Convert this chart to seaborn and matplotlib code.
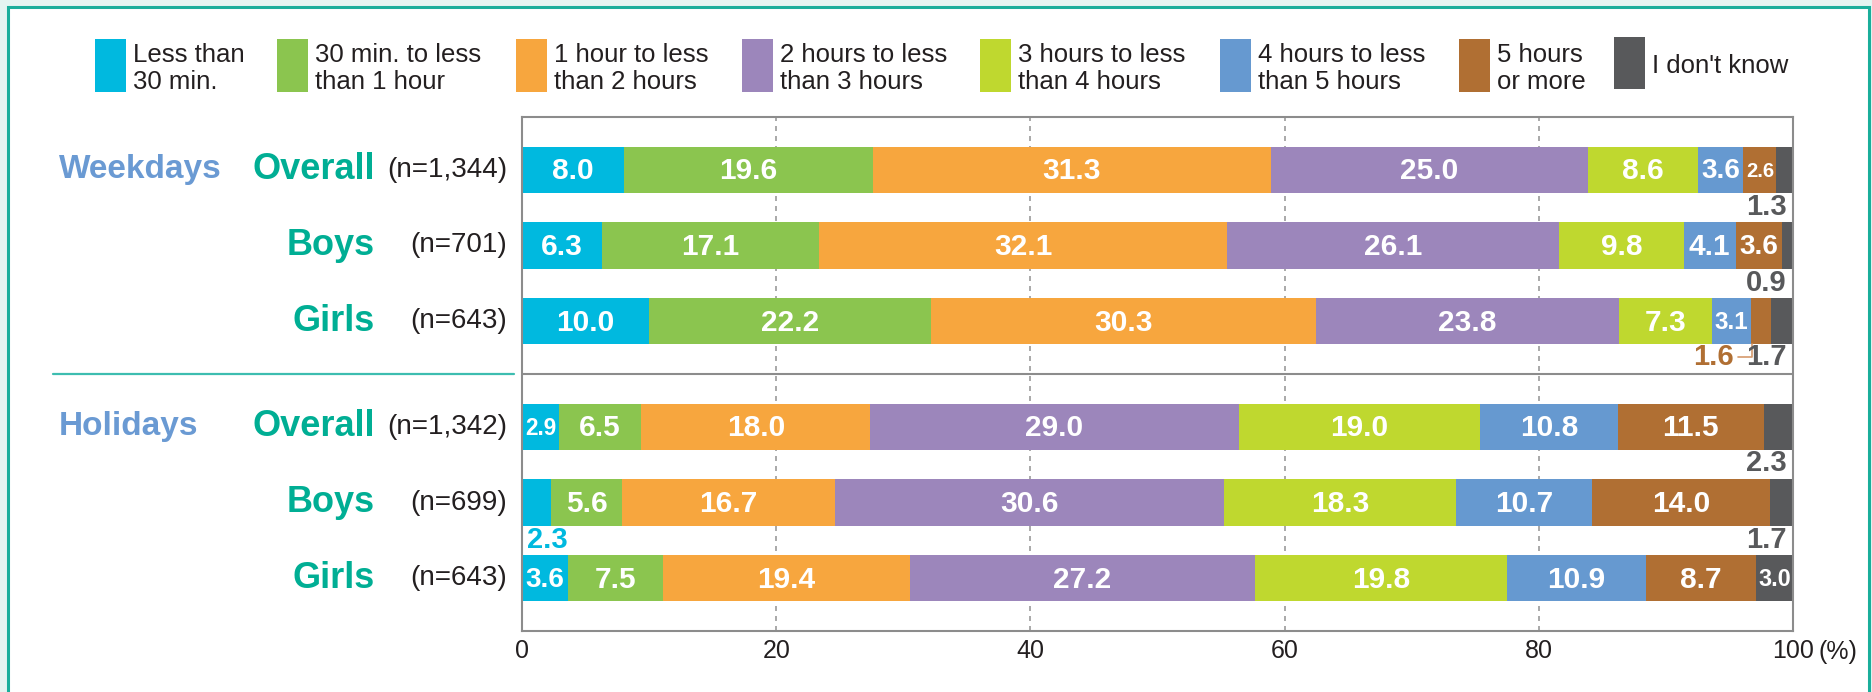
import matplotlib
matplotlib.use('Agg')
import matplotlib.pyplot as plt
import seaborn as sns
import numpy as np
import pandas as pd
from matplotlib import transforms
from matplotlib.patches import Rectangle
from matplotlib.lines import Line2D

# categories of daily time and their colours
categories = ['Less than\n30 min.', '30 min. to less\nthan 1 hour', '1 hour to less\nthan 2 hours',
              '2 hours to less\nthan 3 hours', '3 hours to less\nthan 4 hours',
              '4 hours to less\nthan 5 hours', '5 hours\nor more', "I don't know"]
colors = ['#00b9df', '#8bc54f', '#f7a63e', '#9c86bb', '#bfd82f', '#6699d0', '#b06f33', '#58595b']

groups = ['Weekdays', '', '', 'Holidays', '', '']
rows = ['Overall', 'Boys', 'Girls', 'Overall', 'Boys', 'Girls']
sample_sizes = ['(n=1,344)', '(n=701)', '(n=643)', '(n=1,342)', '(n=699)', '(n=643)']

weekday_overall = [8.0, 19.6, 31.3, 25.0, 8.6, 3.6, 2.6, 1.3]
weekday_boys = [6.3, 17.1, 32.1, 26.1, 9.8, 4.1, 3.6, 0.9]
weekday_girls = [10.0, 22.2, 30.3, 23.8, 7.3, 3.1, 1.6, 1.7]
holiday_overall = [2.9, 6.5, 18.0, 29.0, 19.0, 10.8, 11.5, 2.3]
holiday_boys = [2.3, 5.6, 16.7, 30.6, 18.3, 10.7, 14.0, 1.7]
holiday_girls = [3.6, 7.5, 19.4, 27.2, 19.8, 10.9, 8.7, 3.0]

x_ticks = [0, 20, 40, 60, 80, 100]

all_values = [weekday_overall, weekday_boys, weekday_girls,
              holiday_overall, holiday_boys, holiday_girls]
row_pos = [0, 1, 2, 3.4, 4.4, 5.4]

recs = []
for i, vals in enumerate(all_values):
    ends = np.cumsum(vals)
    for k, v in enumerate(vals):
        recs.append(dict(pos=row_pos[i], row=i, cat=k, value=v, end=ends[k], start=ends[k] - v))
df = pd.DataFrame(recs)

sns.set_style('white')
plt.rcParams['font.family'] = ['Liberation Sans', 'DejaVu Sans']

W, H = 1872, 692
fig = plt.figure(figsize=(W / 100, H / 100), dpi=100, facecolor='#e4f4f1')

# white panel with teal frame
fig.patches.append(Rectangle((8 / W, -0.1), (1869 - 8) / W, 1.1 - 7 / H, transform=fig.transFigure,
                             facecolor='white', edgecolor='#1aae9b', lw=2.2, zorder=-10))

ax = fig.add_axes([522 / W, 1 - 631 / H, (1793 - 522) / W, (631 - 117) / H])

# stacked bars: draw the cumulative ends from last category backwards
for k in reversed(range(len(categories))):
    sub = df[df['cat'] == k]
    sns.barplot(data=sub, x='end', y='pos', orient='y', native_scale=True, color=colors[k],
                saturation=1, width=0.61, errorbar=None, linewidth=0, ax=ax)

ax.set_xlim(0, 100)
ax.set_ylim(6.1, -0.7)
ax.set_yticks([])
ax.set_xlabel('')
ax.set_ylabel('')
ax.set_xticks(x_ticks)
ax.set_xticklabels([str(t) for t in x_ticks], fontsize=18, color='#231f20')
ax.tick_params(axis='x', length=0, pad=6)
ax.set_axisbelow(True)
ax.xaxis.grid(True, ls=(0, (3, 3)), color='#9b9b9b', lw=1.2)
for s in ax.spines.values():
    s.set_color('#8c8c8c')
    s.set_linewidth(1.5)
ax.axhline(2.7, color='#8c8c8c', lw=1.5)

# value labels
outside = {
    (0, 7): (99.5, 0.49, 'right', '#58595b'),
    (1, 7): (99.5, 0.49, 'right', '#58595b'),
    (2, 7): (99.5, 0.48, 'right', '#58595b'),
    (2, 6): (95.3, 0.48, 'right', '#b06f33'),
    (3, 7): (99.5, 0.48, 'right', '#58595b'),
    (4, 7): (99.5, 0.49, 'right', '#58595b'),
    (4, 0): (0.4, 0.49, 'left', '#00b9df'),
}
for _, r in df.iterrows():
    key = (int(r['row']), int(r['cat']))
    txt = f"{r['value']:.1f}"
    if key in outside:
        x, dy, ha, c = outside[key]
        ax.text(x, r['pos'] + dy, txt, ha=ha, va='center', color=c, fontsize=21, fontweight='bold')
    else:
        ax.text(r['start'] + r['value'] / 2, r['pos'] + 0.02, txt, ha='center', va='center',
                color='white', fontsize=min(21.5, 5.6 * r['value']), fontweight='bold')

# connector for the girls' 1.6 label
g = df[(df['row'] == 2) & (df['cat'] == 6)].iloc[0]
ax.plot([95.7, g['start'] + 0.1, g['start'] + 0.1], [2.48, 2.48, 2.305], color='#d59a6c', lw=1.2,
        clip_on=False)

# row labels
tr = transforms.blended_transform_factory(fig.transFigure, ax.transData)
for i, p in enumerate(row_pos):
    if groups[i]:
        ax.text(59 / W, p, groups[i], transform=tr, ha='left', va='center', fontsize=24,
                fontweight='bold', color='#6a9ad3')
    ax.text(375 / W, p, rows[i], transform=tr, ha='right', va='center', fontsize=26,
            fontweight='bold', color='#00ae94')
    ax.text(507 / W, p, sample_sizes[i], transform=tr, ha='right', va='center', fontsize=20,
            color='#231f20')

fig.add_artist(Line2D([53 / W, 514 / W], [1 - 374 / H, 1 - 374 / H], color='#3dbdb0', lw=1.6))

fig.text(1818 / W, 1 - 652 / H, '(%)', ha='left', va='center', fontsize=18, color='#231f20')

# legend
legend_x = [95, 277, 516, 742, 980, 1220, 1459, 1614]
for k, lab in enumerate(categories):
    x0 = legend_x[k]
    top, bot = (37, 89) if k == 7 else (39, 92)
    fig.patches.append(Rectangle((x0 / W, 1 - bot / H), 31 / W, (bot - top) / H,
                                 transform=fig.transFigure, facecolor=colors[k], lw=0))
    fig.text((x0 + 38) / W, 1 - ((top + bot) / 2 + 3) / H, lab, ha='left', va='center',
             fontsize=18.5, color='#231f20', linespacing=1.2)

fig.savefig('out.png', dpi=100, facecolor=fig.get_facecolor())
